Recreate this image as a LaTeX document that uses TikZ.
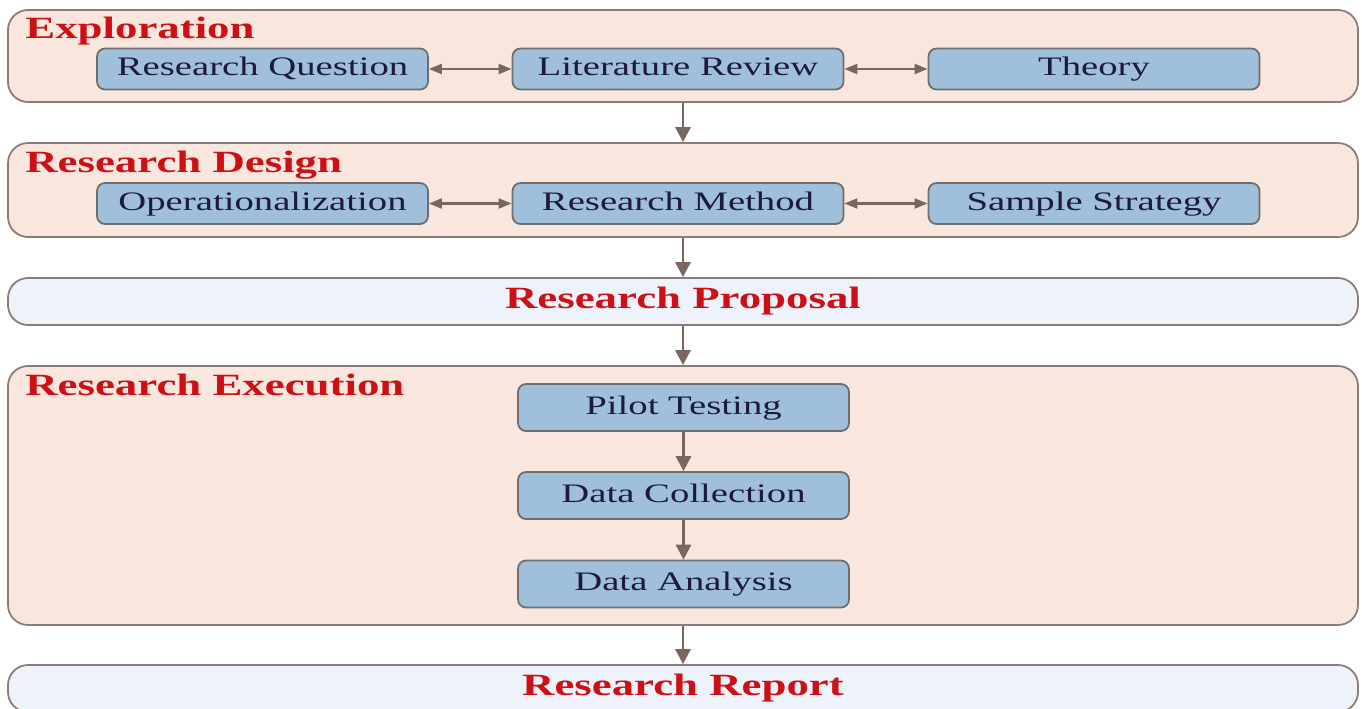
\documentclass[tikz,border=0pt]{standalone}
\usepackage{fontspec}
\setmainfont{Liberation Serif}[FakeStretch=1.45]
\usepackage{xcolor}
\usepackage{tikz}
\usetikzlibrary{arrows.meta,positioning}
\definecolor{panelfill}{HTML}{F9E6DC}
\definecolor{panelline}{HTML}{8C7B76}
\definecolor{boxfill}{HTML}{A0BFDA}
\definecolor{boxline}{HTML}{6E6E70}
\definecolor{arrowcol}{HTML}{7B665F}
\definecolor{headred}{HTML}{CC1016}
\definecolor{plainfill}{HTML}{EEF2FA}
\definecolor{boxtext}{HTML}{1C1C3A}
\tikzset{
	panel/.style={draw=panelline, line width=1pt, fill=panelfill, rounded corners=0.4cm,
			minimum width=27cm, inner sep=0pt},
	plainpanel/.style={panel, fill=plainfill, minimum height=0.94cm,
			text=headred, font=\fontsize{17.6}{21}\selectfont\bfseries},
	heading/.style={anchor=base west, inner sep=0pt, text=headred,
			font=\fontsize{17.6}{21}\selectfont\bfseries},
	stage/.style={draw=boxline, line width=1pt, fill=boxfill, rounded corners=0.16cm,
			minimum width=6.62cm, text=boxtext, text height=10.5pt, text depth=3pt,
			font=\fontsize{15.2}{18}\selectfont},
	flow/.style={draw=arrowcol, line width=1.6pt, -{Triangle[length=0.3cm,width=0.3cm]}},
	link/.style={draw=arrowcol, line width=1.2pt,
			{Triangle[length=0.26cm,width=0.2cm]}-{Triangle[length=0.26cm,width=0.2cm]}}
}

\begin{document}
\begin{tikzpicture}[x=1cm, y=-1cm]
	\clip (0,0) rectangle (27.24,14.16);
	\fill[white] (0,0) rectangle (27.24,14.16);

	% panels
	\node[panel, minimum height=1.84cm] (expl) at (13.66,1.12) {};
	\node[panel, minimum height=1.88cm] (design) at (13.66,3.80) {};
	\node[plainpanel] (proposal) at (13.66,6.03) {Research Proposal};
	\node[panel, minimum height=5.18cm] (exec) at (13.66,9.91) {};
	\node[plainpanel] (report) at (13.66,13.77) {Research Report};

	\node[heading] (explhead) at (0.5,0.76) {Exploration};
	\node[heading] (designhead) at (0.5,3.44) {Research Design};
	\node[heading] (exechead) at (0.5,7.90) {Research Execution};

	% exploration
	\node[stage, minimum height=0.82cm] (question) at (5.25,1.38) {Research Question};
	\node[stage, minimum height=0.82cm] (review) at (13.56,1.38) {Literature Review};
	\node[stage, minimum height=0.82cm] (theory) at (21.88,1.38) {Theory};

	% design
	\node[stage, minimum height=0.82cm] (oper) at (5.25,4.07) {Operationalization};
	\node[stage, minimum height=0.82cm] (method) at (13.56,4.07) {Research Method};
	\node[stage, minimum height=0.82cm] (sample) at (21.88,4.07) {Sample Strategy};

	% execution
	\node[stage, minimum height=0.94cm] (pilot) at (13.67,8.15) {Pilot Testing};
	\node[stage, minimum height=0.94cm] (collect) at (13.67,9.91) {Data Collection};
	\node[stage, minimum height=0.94cm] (analysis) at (13.67,11.68) {Data Analysis};

	\draw[link] (question) -- (review);
	\draw[link] (review) -- (theory);
	\draw[link] (oper) -- (method);
	\draw[link] (method) -- (sample);

	\draw[flow] (expl) -- (design);
	\draw[flow] (design) -- (proposal);
	\draw[flow] (proposal) -- (exec);
	\draw[flow] (pilot) -- (collect);
	\draw[flow] (collect) -- (analysis);
	\draw[flow] (exec) -- (report);
\end{tikzpicture}
\end{document}
